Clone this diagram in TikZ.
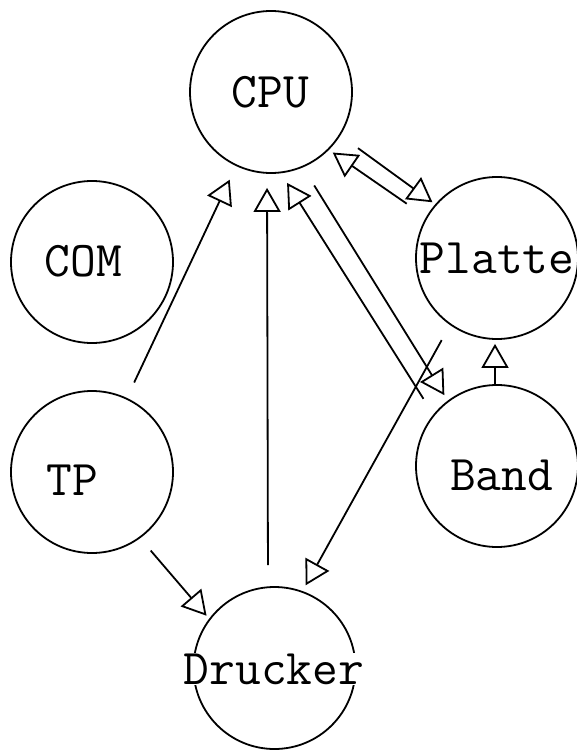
\documentclass[tikz,border=0pt]{standalone}
\usepackage{fontspec}
\usetikzlibrary{arrows.meta}
\begin{document}
\begin{tikzpicture}[x=1pt,y=-1pt,
  circ/.style={circle,draw,line width=1.8pt,minimum size=162pt,inner sep=0pt},
  lbl/.style={font=\ttfamily\fontsize{50}{50}\selectfont,fill=white,inner sep=1pt},
  arr/.style={line width=1.8pt,-{Triangle[open,length=24pt,width=27pt,line width=1.8pt]}}]
\useasboundingbox (0,0) rectangle (576,751);
% circles
\node[circ] (cpu)  at (271,92)    {};
\node[circ] (com)  at (92,262)    {};
\node[circ] (tp)   at (92,472)    {};
\node[circ] (plat) at (497,258)   {};
\node[circ] (band) at (497,466)   {};
\node[circ] (dru)  at (274.5,668) {};
% labels
\node[lbl] (cpul)  at (270.5,92.5) {CPU};
\node[lbl] (coml)  at (83.5,261)   {COM};
\node[lbl] (tpl)   at (72,480.5)   {TP};
\node[lbl] (platl) at (497,258)    {Platte};
\node[lbl] (bandl) at (501.5,475)  {Band};
\node[lbl] (drul)  at (274,669)    {Drucker};
% connectors
\draw[arr, shorten <=17pt, shorten >=15pt] (tp) -- (cpu);
\draw[arr, shorten <=21pt, shorten >=14pt] ([xshift=-6.5pt]dru.north) -- ([xshift=-4pt]cpu.south);
\draw[arr, shorten <=18.5pt, shorten >=11.4pt] (band.141) -- (cpu.-83);
\draw[arr, shorten <=21.3pt, shorten >=6.4pt] (cpu.-67.7) -- (band.127.4);
\draw[arr, shorten <=23.5pt, shorten >=4.6pt] (plat.150.9) -- (cpu.-45);
\draw[arr, shorten <=21.7pt, shorten >=3.4pt] (cpu.-32.3) -- (plat.139.1);
\draw[arr, shorten <=17.2pt, shorten >=6.6pt] (plat.235.8) -- (dru.70);
\draw[arr, shorten >=4pt] ([xshift=-2pt]band.north) -- ([xshift=-2pt]plat.south);
\draw[arr, shorten <=16.2pt, shorten >=3.9pt] (tp.-54.2) -- (dru.143.1);
\end{tikzpicture}
\end{document}
